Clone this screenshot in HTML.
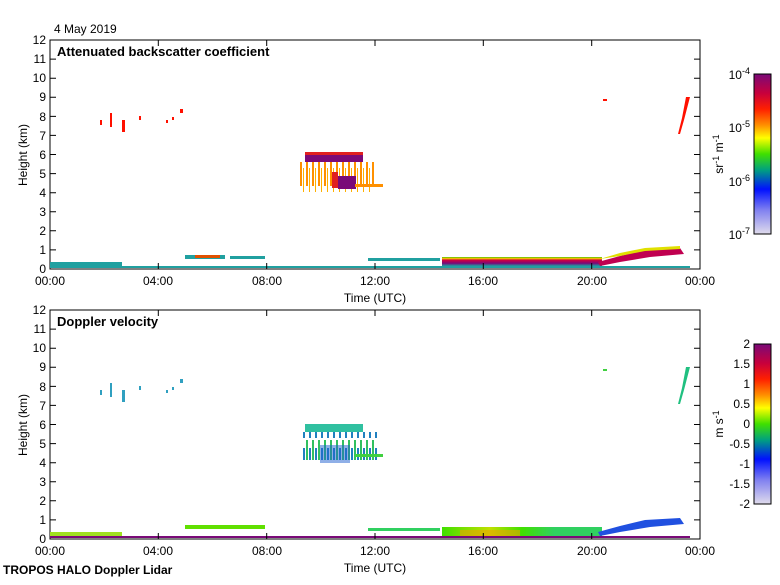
<!DOCTYPE html>
<html><head><meta charset="utf-8"><style>
body{margin:0;background:#fff}
svg{font-family:"Liberation Sans",sans-serif;font-size:12px}
</style></head><body>
<svg width="780" height="580" xmlns="http://www.w3.org/2000/svg">
<defs>
<linearGradient id="cb" x1="0" y1="0" x2="0" y2="1">
<stop offset="0" stop-color="#7a0a78"/><stop offset="0.12" stop-color="#c8003c"/>
<stop offset="0.22" stop-color="#ff2000"/><stop offset="0.32" stop-color="#ff9000"/>
<stop offset="0.4" stop-color="#ffff00"/><stop offset="0.5" stop-color="#40e000"/>
<stop offset="0.6" stop-color="#00a080"/><stop offset="0.72" stop-color="#0010ff"/>
<stop offset="0.85" stop-color="#8080f0"/><stop offset="1" stop-color="#e0dcec"/>
</linearGradient>
<linearGradient id="lay" x1="0" y1="0" x2="0" y2="1">
<stop offset="0" stop-color="#40c000"/><stop offset="0.15" stop-color="#ffd000"/><stop offset="0.35" stop-color="#d00040"/><stop offset="0.7" stop-color="#7a0a78"/><stop offset="1" stop-color="#20a0a0"/>
</linearGradient>
<linearGradient id="dlay" x1="0" y1="0" x2="1" y2="0">
<stop offset="0" stop-color="#40e000"/><stop offset="0.3" stop-color="#c0e000"/><stop offset="0.5" stop-color="#40e000"/><stop offset="0.7" stop-color="#30d060"/><stop offset="1" stop-color="#30d060"/>
</linearGradient>
<pattern id="strO" width="6" height="40" patternUnits="userSpaceOnUse"><rect x="0" y="0" width="2" height="26" fill="#ff9000"/><rect x="3" y="8" width="1" height="30" fill="#ffb000"/></pattern>
<pattern id="strD" width="6" height="40" patternUnits="userSpaceOnUse"><rect x="0" y="0" width="2" height="26" fill="#30c060"/><rect x="3" y="8" width="2" height="30" fill="#2080c0"/></pattern>
</defs>

<text x="54" y="33">4 May 2019</text>

<!-- TOP PANEL -->
<g>
<rect x="50" y="40" width="650" height="229" fill="none" stroke="#000"/>
<text x="57" y="56" font-weight="bold" font-size="13">Attenuated backscatter coefficient</text>
<rect x="50" y="262" width="72" height="6" fill="#20a0a0"/>
<rect x="50" y="266" width="640" height="2" fill="#20a0a0"/>
<rect x="185" y="255" width="40" height="4" fill="#20a0a0"/>
<rect x="195" y="255" width="25" height="3" fill="#e05000"/>
<rect x="230" y="256" width="35" height="3" fill="#20a0a0"/>
<rect x="368" y="258" width="72" height="3" fill="#20a0a0"/>
<rect x="442" y="257" width="160" height="9" fill="url(#lay)"/>
<polygon points="598,262 620,256 645,250 680,248 684,254 650,257 620,262 600,266" fill="#c00050"/>
<polygon points="600,259 620,253 645,248 680,246 680,249 645,251 620,256" fill="#e0e000"/>
<!-- cloud -->
<rect x="300" y="162" width="75" height="30" fill="url(#strO)"/>
<rect x="305" y="154" width="58" height="8" fill="#7a0a78"/>
<rect x="305" y="152" width="58" height="3" fill="#e02020"/>
<rect x="338" y="176" width="18" height="13" fill="#7a0a78"/>
<rect x="332" y="172" width="6" height="16" fill="#e02020"/>
<rect x="355" y="184" width="28" height="3" fill="#ff9000"/>
<g fill="#ff1000">
<rect x="100" y="120" width="2" height="5"/><rect x="110" y="113" width="2" height="14"/>
<rect x="122" y="120" width="3" height="12"/><rect x="139" y="116" width="2" height="4"/>
<rect x="166" y="120" width="2" height="3"/><rect x="172" y="117" width="2" height="3"/>
<rect x="180" y="109" width="3" height="4"/><rect x="603" y="99" width="4" height="2"/>
<polygon points="686,97 690,97 684,120 680,134 678,134 682,118"/>
</g>
<g stroke="#000">
<path d="M50 249.9h6M50 230.8h6M50 211.8h6M50 192.7h6M50 173.6h6M50 154.5h6M50 135.4h6M50 116.4h6M50 97.3h6M50 78.2h6M50 59.1h6"/>
<path d="M700 249.9h-6M700 230.8h-6M700 211.8h-6M700 192.7h-6M700 173.6h-6M700 154.5h-6M700 135.4h-6M700 116.4h-6M700 97.3h-6M700 78.2h-6M700 59.1h-6"/>
<path d="M158.3 269v-6M266.7 269v-6M375 269v-6M483.3 269v-6M591.7 269v-6M158.3 40v6M266.7 40v6M375 40v6M483.3 40v6M591.7 40v6"/>
</g>
<g text-anchor="end">
<text x="46" y="273">0</text><text x="46" y="254">1</text><text x="46" y="235">2</text><text x="46" y="216">3</text><text x="46" y="197">4</text><text x="46" y="178">5</text><text x="46" y="159">6</text><text x="46" y="140">7</text><text x="46" y="121">8</text><text x="46" y="101">9</text><text x="46" y="82">10</text><text x="46" y="63">11</text><text x="46" y="44">12</text>
</g>
<g text-anchor="middle">
<text x="50" y="285">00:00</text><text x="158" y="285">04:00</text><text x="267" y="285">08:00</text><text x="375" y="285">12:00</text><text x="483" y="285">16:00</text><text x="592" y="285">20:00</text><text x="700" y="285">00:00</text>
<text x="375" y="302">Time (UTC)</text>
</g>
<text transform="translate(27,155) rotate(-90)" text-anchor="middle">Height (km)</text>
<rect x="754" y="74" width="17" height="160" fill="url(#cb)" stroke="#000"/>
<g text-anchor="end">
<text x="750" y="79">10<tspan dy="-5" font-size="9">-4</tspan></text>
<text x="750" y="132">10<tspan dy="-5" font-size="9">-5</tspan></text>
<text x="750" y="186">10<tspan dy="-5" font-size="9">-6</tspan></text>
<text x="750" y="239">10<tspan dy="-5" font-size="9">-7</tspan></text>
</g>
<text transform="translate(723,154) rotate(-90)" text-anchor="middle">sr<tspan dy="-4" font-size="9">-1</tspan><tspan dy="4"> m</tspan><tspan dy="-4" font-size="9">-1</tspan></text>
</g>

<!-- BOTTOM PANEL -->
<g>
<rect x="50" y="310" width="650" height="229" fill="none" stroke="#000"/>
<text x="57" y="326" font-weight="bold" font-size="13">Doppler velocity</text>
<rect x="50" y="532" width="72" height="6" fill="#a0e020"/>
<rect x="50" y="536" width="640" height="2" fill="#7a0a78"/>
<rect x="185" y="525" width="80" height="4" fill="#60e000"/>
<rect x="368" y="528" width="72" height="3" fill="#30d060"/>
<rect x="442" y="527" width="160" height="9" fill="url(#dlay)"/>
<rect x="460" y="530" width="60" height="6" fill="#f0a000" opacity="0.6"/>
<polygon points="598,532 620,526 645,520 680,518 684,524 650,527 620,532 600,536" fill="#2050e0"/>
<rect x="302" y="432" width="75" height="28" fill="url(#strD)"/>
<rect x="305" y="424" width="58" height="8" fill="#30c0a0"/>
<rect x="320" y="445" width="30" height="18" fill="#2060d0" opacity="0.5"/>
<rect x="355" y="454" width="28" height="3" fill="#40d040"/>
<g fill="#30a0c0">
<rect x="100" y="390" width="2" height="5"/><rect x="110" y="383" width="2" height="14"/>
<rect x="122" y="390" width="3" height="12"/><rect x="139" y="386" width="2" height="4"/>
<rect x="166" y="390" width="2" height="3"/><rect x="172" y="387" width="2" height="3"/>
<rect x="180" y="379" width="3" height="4"/><rect x="603" y="369" width="4" height="2" fill="#40d040"/>
<polygon points="686,367 690,367 684,390 680,404 678,404 682,388" fill="#20c080"/>
</g>
<g stroke="#000">
<path d="M50 519.9h6M50 500.8h6M50 481.8h6M50 462.7h6M50 443.6h6M50 424.5h6M50 405.4h6M50 386.4h6M50 367.3h6M50 348.2h6M50 329.1h6"/>
<path d="M700 519.9h-6M700 500.8h-6M700 481.8h-6M700 462.7h-6M700 443.6h-6M700 424.5h-6M700 405.4h-6M700 386.4h-6M700 367.3h-6M700 348.2h-6M700 329.1h-6"/>
<path d="M158.3 539v-6M266.7 539v-6M375 539v-6M483.3 539v-6M591.7 539v-6M158.3 310v6M266.7 310v6M375 310v6M483.3 310v6M591.7 310v6"/>
</g>
<g text-anchor="end">
<text x="46" y="543">0</text><text x="46" y="524">1</text><text x="46" y="505">2</text><text x="46" y="486">3</text><text x="46" y="467">4</text><text x="46" y="448">5</text><text x="46" y="429">6</text><text x="46" y="410">7</text><text x="46" y="391">8</text><text x="46" y="371">9</text><text x="46" y="352">10</text><text x="46" y="333">11</text><text x="46" y="314">12</text>
</g>
<g text-anchor="middle">
<text x="50" y="555">00:00</text><text x="158" y="555">04:00</text><text x="267" y="555">08:00</text><text x="375" y="555">12:00</text><text x="483" y="555">16:00</text><text x="592" y="555">20:00</text><text x="700" y="555">00:00</text>
<text x="375" y="572">Time (UTC)</text>
</g>
<text transform="translate(27,425) rotate(-90)" text-anchor="middle">Height (km)</text>
<rect x="754" y="344" width="17" height="160" fill="url(#cb)" stroke="#000"/>
<g text-anchor="end">
<text x="750" y="348">2</text><text x="750" y="368">1.5</text><text x="750" y="388">1</text><text x="750" y="408">0.5</text><text x="750" y="428">0</text><text x="750" y="448">-0.5</text><text x="750" y="468">-1</text><text x="750" y="488">-1.5</text><text x="750" y="508">-2</text>
</g>
<text transform="translate(723,424) rotate(-90)" text-anchor="middle">m s<tspan dy="-4" font-size="9">-1</tspan></text>
</g>
<text x="3" y="574" font-weight="bold" font-size="12">TROPOS HALO Doppler Lidar</text>
</svg>
</body></html>
